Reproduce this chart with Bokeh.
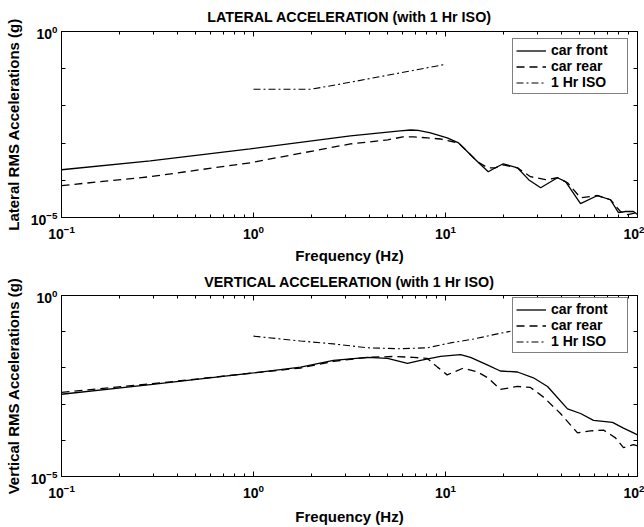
from bokeh.plotting import figure
from bokeh.models import LogAxis, FixedTicker, Legend, LegendItem, Range1d
from bokeh.layouts import column
from bokeh.embed import file_html
from bokeh.resources import INLINE

# ---------------- data ----------------
lat_front_f = [0.1, 0.29, 0.96, 3.2, 5.8, 6.6, 7.2, 8.35, 10.2, 11.7, 14.7, 16.7, 18.2, 20.0, 23.7,
               27.1, 31.3, 38.3, 42.2, 50.5, 61.9, 72.3, 79.6, 86.6, 95.3, 100]
lat_front = [1.92e-4, 3.34e-4, 7.0e-4, 1.56e-3, 2.12e-3, 2.25e-3, 2.2e-3, 1.87e-3, 1.38e-3, 1.01e-3,
             3.14e-4, 1.70e-4, 2.17e-4, 2.78e-4, 2.17e-4, 1.04e-4, 6.3e-5, 1.17e-4, 9.2e-5, 2.37e-5,
             3.9e-5, 3.0e-5, 1.36e-5, 1.45e-5, 1.45e-5, 1.2e-5]

lat_rear_f = [0.1, 0.29, 0.96, 3.2, 5.0, 6.0, 6.8, 8.05, 9.4, 11.7, 14.7, 16.6, 18.2, 20.0, 23.7,
              27.7, 33.2, 38.3, 43.2, 50.5, 61.9, 72.3, 81.5, 88.7, 100]
lat_rear = [7.2e-5, 1.25e-4, 2.96e-4, 9.5e-4, 1.22e-3, 1.47e-3, 1.47e-3, 1.38e-3, 1.29e-3, 1.01e-3,
            3.14e-4, 2.17e-4, 2.17e-4, 2.61e-4, 2.17e-4, 1.25e-4, 1.04e-4, 1.17e-4, 8.6e-5, 3.4e-5,
            3.9e-5, 3.0e-5, 1.45e-5, 1.2e-5, 1.36e-5]

lat_iso_f = [1.0, 2.0, 3.2, 10.0]
lat_iso = [0.0281, 0.0281, 0.0433, 0.131]

vert_front_f = [0.1, 0.29, 1.0, 1.76, 2.61, 3.92, 4.99, 6.34, 7.41, 9.42, 11.97, 13.5, 16.6, 19.3,
                23.7, 28.7, 34.0, 43.2, 50.5, 59.0, 74.1, 84.5, 95.3, 100]
vert_front = [1.87e-3, 3.47e-3, 7.26e-3, 1.05e-2, 1.62e-2, 1.95e-2, 1.83e-2, 1.34e-2, 1.62e-2,
              2.07e-2, 2.34e-2, 1.95e-2, 1.19e-2, 8.2e-3, 7.7e-3, 5.33e-3, 3.07e-3, 7.4e-4, 5.5e-4,
              3.56e-4, 3.14e-4, 2.17e-4, 1.60e-4, 1.41e-4]

vert_rear_f = [0.1, 0.29, 1.0, 1.76, 2.61, 3.92, 5.36, 6.81, 8.05, 9.08, 10.2, 12.4, 14.7, 16.6,
               19.3, 23.7, 27.7, 32.4, 39.7, 48.7, 56.9, 66.5, 76.8, 84.5, 95.3, 100]
vert_rear = [2.12e-3, 3.6e-3, 7.26e-3, 9.9e-3, 1.52e-2, 1.95e-2, 2.07e-2, 1.95e-2, 1.83e-2, 1.05e-2,
             6.42e-3, 9.88e-3, 7.7e-3, 5.33e-3, 2.55e-3, 3.07e-3, 2.88e-3, 1.56e-3, 5.5e-4, 1.60e-4,
             1.81e-4, 1.92e-4, 1.17e-4, 6.3e-5, 7.6e-5, 7.0e-5]

vert_iso_f = [1.0, 1.76, 2.61, 3.92, 5.83, 8.05, 10.6, 14.0, 19.3, 21.8]
vert_iso = [0.0753, 0.0554, 0.046, 0.036, 0.0338, 0.036, 0.049, 0.0626, 0.0906, 0.1025]

x_major = [0.1, 1, 10, 100]
x_minor = [m * d for d in (0.1, 1, 10) for m in range(2, 10)]
y_major = [1e-5, 1.0]
y_minor = [1e-4, 1e-3, 1e-2, 1e-1]

titles = ["LATERAL ACCELERATION (with 1 Hr ISO)", "VERTICAL ACCELERATION (with 1 Hr ISO)"]
ylabels = ["Lateral RMS Accelerations (g)", "Vertical RMS Accelerations (g)"]
xlabel = "Frequency (Hz)"
series_names = ["car front", "car rear", "1 Hr ISO"]

FONT = "Liberation Sans"


def style_axis(ax, kind, labels=True):
    if kind == "x":
        ax.ticker = FixedTicker(ticks=x_major, minor_ticks=x_minor)
        ax.major_tick_in = 5
        ax.minor_tick_in = 3
    else:
        ax.ticker = FixedTicker(ticks=y_major, minor_ticks=y_minor)
        ax.major_tick_in = 4
        ax.minor_tick_in = 4
    ax.major_tick_out = 0
    ax.minor_tick_out = 0
    ax.axis_line_color = "black"
    ax.major_tick_line_color = "black"
    ax.minor_tick_line_color = "black"
    if labels:
        ax.major_label_text_font = FONT
        ax.major_label_text_font_size = "14px"
        ax.major_label_text_font_style = "bold"
        ax.major_label_text_color = "black"
        ax.axis_label_text_font = FONT
        ax.axis_label_text_font_size = "15px"
        ax.axis_label_text_font_style = "bold"
        ax.axis_label_text_color = "black"
    else:
        ax.major_label_text_font_size = "1px"
        ax.major_label_text_alpha = 0
        ax.major_label_standoff = 0


def make(idx, fx, fy, rx, ry, ix, iy, height, top_border, bottom_border, title_standoff,
         xlab_standoff):
    p = figure(width=644, height=height,
               x_axis_type="log", y_axis_type="log",
               x_range=Range1d(0.1, 100), y_range=Range1d(1e-5, 1.0),
               output_backend="svg", toolbar_location=None,
               min_border_left=61, min_border_right=7,
               min_border_top=top_border, min_border_bottom=bottom_border,
               background_fill_color="white", border_fill_color="white")
    p.grid.visible = False
    p.outline_line_color = "black"
    p.title.text = titles[idx]
    p.title.align = "center"
    p.title.text_font = FONT
    p.title.text_font_size = "14.3px"
    p.title.text_font_style = "bold"
    p.title.text_color = "black"
    p.title.standoff = title_standoff

    style_axis(p.xaxis[0], "x")
    style_axis(p.yaxis[0], "y")
    p.xaxis[0].axis_label = xlabel
    p.xaxis[0].axis_label_standoff = xlab_standoff
    p.xaxis[0].major_label_standoff = 7
    p.yaxis[0].axis_label = ylabels[idx]
    p.yaxis[0].major_label_standoff = 4
    p.yaxis[0].axis_label_standoff = 6

    top_ax = LogAxis()
    style_axis(top_ax, "x", labels=False)
    p.add_layout(top_ax, "above")
    right_ax = LogAxis()
    style_axis(right_ax, "y", labels=False)
    p.add_layout(right_ax, "right")

    r1 = p.line(fx, fy, line_color="black", line_width=1.3)
    r2 = p.line(rx, ry, line_color="black", line_width=1.3, line_dash="8 5")
    r3 = p.line(ix, iy, line_color="black", line_width=1.1, line_dash="7 3 2 3")

    legend = Legend(items=[LegendItem(label=series_names[0], renderers=[r1]),
                           LegendItem(label=series_names[1], renderers=[r2]),
                           LegendItem(label=series_names[2], renderers=[r3])],
                    location=(451, 123))
    legend.border_line_color = "black"
    legend.border_line_width = 1
    legend.background_fill_color = "white"
    legend.background_fill_alpha = 1.0
    legend.label_text_font = FONT
    legend.label_text_font_size = "14px"
    legend.label_text_font_style = "bold"
    legend.label_text_color = "black"
    legend.label_text_line_height = 0.95
    legend.glyph_width = 30
    legend.glyph_height = 13
    legend.label_height = 13
    legend.label_width = 73
    legend.label_standoff = 5
    legend.padding = 3
    legend.spacing = 0
    legend.margin = 0
    p.add_layout(legend)
    return p


p1 = make(0, lat_front_f, lat_front, lat_rear_f, lat_rear, lat_iso_f, lat_iso,
          266, 31, 48, 13, 5)
p2 = make(1, vert_front_f, vert_front, vert_rear_f, vert_rear, vert_iso_f, vert_iso,
          261, 27, 47, 11, 7)

layout = column(p1, p2, spacing=0)
open("out.html", "w").write(file_html(layout, INLINE))
